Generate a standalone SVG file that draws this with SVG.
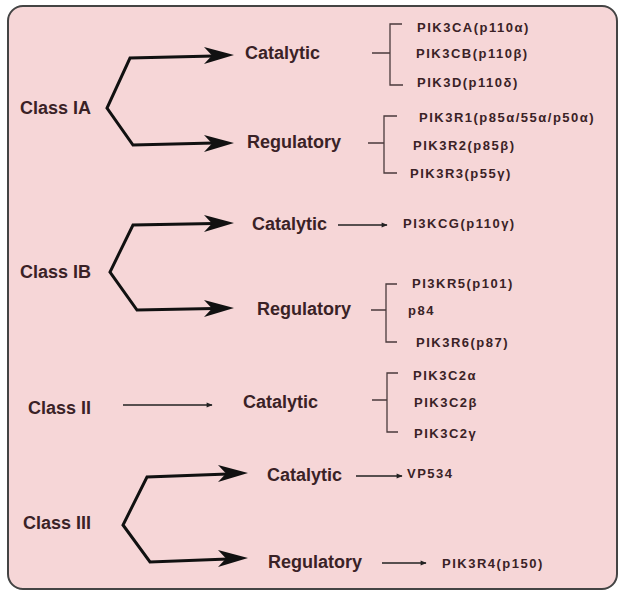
<svg xmlns="http://www.w3.org/2000/svg" width="623" height="594" viewBox="0 0 623 594">
<defs>
<style>
.lbl{font-family:"Liberation Sans",Arial,sans-serif;font-weight:bold;font-size:18px;fill:#3a2226}
.sm{font-family:"Liberation Sans",Arial,sans-serif;font-weight:bold;font-size:13px;letter-spacing:1.5px;fill:#3a2226}
.thick{fill:none;stroke:#111;stroke-width:3;stroke-linejoin:miter}
.thin{fill:none;stroke:#222;stroke-width:1.5}
.br{fill:none;stroke:#4a3a3c;stroke-width:1.3}
.head{fill:#111}
</style>
<marker id="sa" viewBox="0 0 10 10" refX="9" refY="5" markerWidth="7" markerHeight="6" markerUnits="userSpaceOnUse" orient="auto">
<path d="M0,1 L10,5 L0,9 Z" fill="#222"/>
</marker>
</defs>
<rect x="8" y="6" width="609" height="583" rx="15" fill="#f6d6d7" stroke="#444" stroke-width="2"/>

<g id="connectors">
<!-- Class IA -->
<path class="thick" d="M214,56 L130,58 L107,108 L133,145 L214,143"/>
<path class="head" d="M234,55 L204,47 L212,55.5 L204,64 Z"/>
<path class="head" d="M234,143 L204,135 L212,143.5 L204,152 Z"/>
<!-- Class IB -->
<path class="thick" d="M214,223.5 L133,225 L110,272 L137,310 L214,308.5"/>
<path class="head" d="M234,223 L204,215 L212,223.5 L204,232 Z"/>
<path class="head" d="M234,308 L204,300 L212,308.5 L204,317 Z"/>
<!-- Class III -->
<path class="thick" d="M228,474 L147,477 L123,525 L150,562 L228,559"/>
<path class="head" d="M248,473 L218,465 L226,473.5 L218,482 Z"/>
<path class="head" d="M248,558 L218,550 L226,558.5 L218,567 Z"/>
<!-- thin arrows -->
<line class="thin" x1="123" y1="405" x2="212" y2="405" marker-end="url(#sa)"/>
<line class="thin" x1="338" y1="225" x2="387" y2="225" marker-end="url(#sa)"/>
<line class="thin" x1="356" y1="476" x2="402" y2="476" marker-end="url(#sa)"/>
<line class="thin" x1="382" y1="563" x2="426" y2="563" marker-end="url(#sa)"/>
<!-- brackets -->
<path class="br" d="M372,53 H390 M402,24 H390 V85 H403"/>
<path class="br" d="M368,143 H384 M397,116 H384 V173 H397"/>
<path class="br" d="M371,310 H386 M397,284 H386 V342 H397"/>
<path class="br" d="M372,400 H387 M398,373 H387 V432 H398"/>
</g>

<g id="class-ia"><text class="lbl" x="20" y="114">Class IA</text></g>
<g id="ia-catalytic"><text class="lbl" x="245" y="59">Catalytic</text></g>
<g id="ia-regulatory"><text class="lbl" x="247" y="148">Regulatory</text></g>
<g id="ia-cat-genes">
<text class="sm" x="417" y="31.5">PIK3CA(p110α)</text>
<text class="sm" x="416" y="57.5">PIK3CB(p110β)</text>
<text class="sm" x="417" y="86.5">PIK3D(p110δ)</text>
</g>
<g id="ia-reg-genes">
<text class="sm" x="419" y="121.5">PIK3R1(p85α/55α/p50α)</text>
<text class="sm" x="413" y="149.5">PIK3R2(p85β)</text>
<text class="sm" x="410" y="177.5">PIK3R3(p55γ)</text>
</g>

<g id="class-ib"><text class="lbl" x="20" y="278">Class IB</text></g>
<g id="ib-catalytic"><text class="lbl" x="252" y="230">Catalytic</text></g>
<g id="ib-regulatory"><text class="lbl" x="257" y="315">Regulatory</text></g>
<g id="ib-cat-genes"><text class="sm" x="403" y="228">PI3KCG(p110γ)</text></g>
<g id="ib-reg-genes">
<text class="sm" x="412" y="287.5">PI3KR5(p101)</text>
<text class="sm" x="408" y="314.5">p84</text>
<text class="sm" x="416" y="346.5">PIK3R6(p87)</text>
</g>

<g id="class-ii"><text class="lbl" x="28" y="414">Class II</text></g>
<g id="ii-catalytic"><text class="lbl" x="243" y="408">Catalytic</text></g>
<g id="ii-cat-genes">
<text class="sm" x="413" y="379.5">PIK3C2α</text>
<text class="sm" x="414" y="406.5">PIK3C2β</text>
<text class="sm" x="414" y="437.5">PIK3C2γ</text>
</g>

<g id="class-iii"><text class="lbl" x="23" y="529">Class III</text></g>
<g id="iii-catalytic"><text class="lbl" x="267" y="481">Catalytic</text></g>
<g id="iii-regulatory"><text class="lbl" x="268" y="568">Regulatory</text></g>
<g id="iii-cat-genes"><text class="sm" x="407" y="477.5">VP534</text></g>
<g id="iii-reg-genes"><text class="sm" x="442" y="567.5">PIK3R4(p150)</text></g>
</svg>
